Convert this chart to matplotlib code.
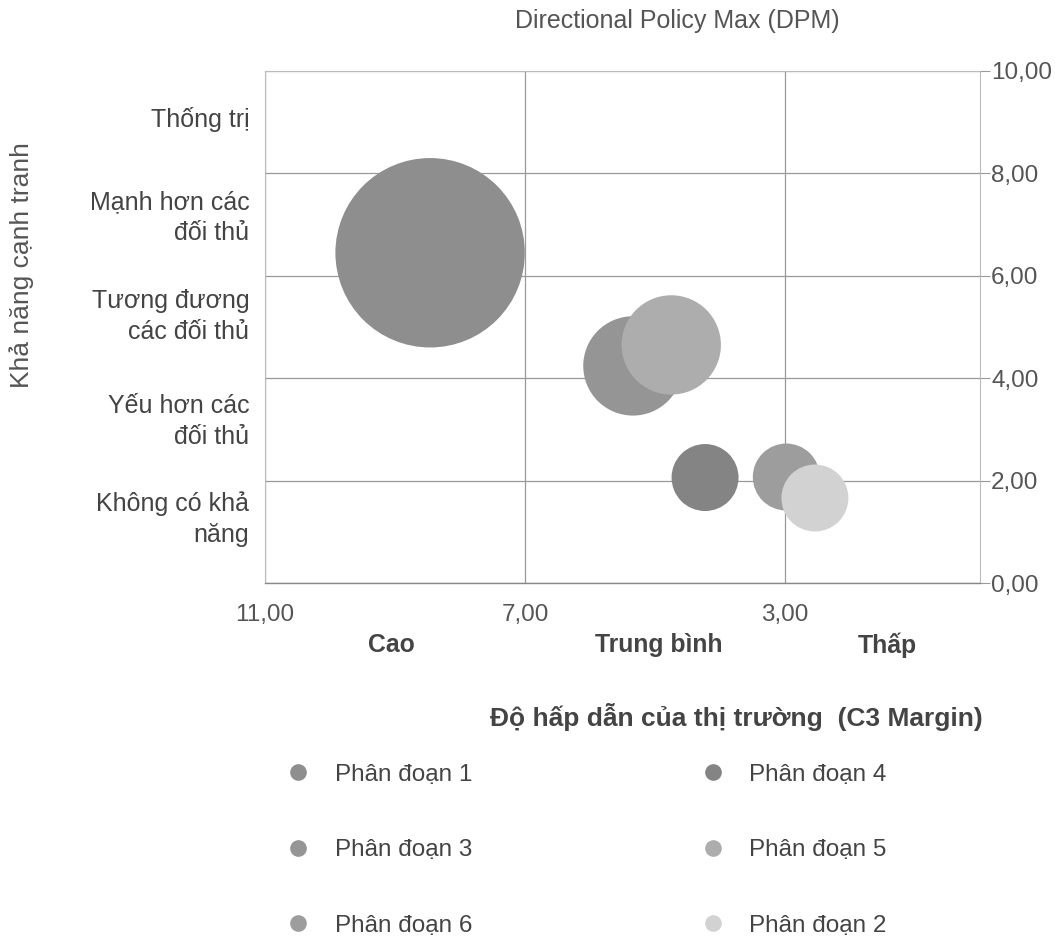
import matplotlib
matplotlib.use("Agg")
import matplotlib.pyplot as plt
import matplotlib.transforms as mtransforms
from matplotlib.lines import Line2D

plt.rcParams['font.family'] = ['Liberation Sans', 'DejaVu Sans']

# Du lieu bong bong (doc tu hinh)
segments = ['Phân đoạn 1', 'Phân đoạn 3', 'Phân đoạn 5', 'Phân đoạn 4', 'Phân đoạn 6', 'Phân đoạn 2']
market_attr = [8.46, 5.34, 4.75, 4.23, 2.98, 2.54]
comp_strength = [6.45, 4.24, 4.65, 2.06, 2.07, 1.66]
bubble_size = [40, 11, 11, 5, 5, 5]
colors = ['#8e8e8e', '#959595', '#adadad', '#848484', '#9d9d9d', '#d2d2d2']

legend_order = ['Phân đoạn 1', 'Phân đoạn 3', 'Phân đoạn 6', 'Phân đoạn 4', 'Phân đoạn 5', 'Phân đoạn 2']

x_ticks = [11, 7, 3]
y_ticks = [0, 2, 4, 6, 8, 10]
y_levels = ['Thống trị', 'Mạnh hơn các\nđối thủ', 'Tương đương\ncác đối thủ',
            'Yếu hơn các\nđối thủ', 'Không có khả\nnăng']
y_level_pos = [9.05, 7.13, 5.2, 3.16, 1.25]
x_levels = ['Cao', 'Trung bình', 'Thấp']
x_level_pos = [9.05, 4.95, 1.42]

fig = plt.figure(figsize=(10.55, 9.44), dpi=100)
ax = fig.add_axes([0.2512, 0.3824, 0.6777, 0.5424])

k = 465  # pt^2 per size unit
for name, x, y, s, c in zip(segments, market_attr, comp_strength, bubble_size, colors):
    ax.scatter(x, y, s=s * k, color=c, edgecolors='none', zorder=3)

ax.set_xlim(11, 0)
ax.set_ylim(0, 10)

ax.set_xticks(x_ticks)
ax.set_xticklabels([f"{v:.2f}".replace('.', ',') for v in x_ticks])
ax.set_yticks(y_ticks)
ax.set_yticklabels([f"{v:.2f}".replace('.', ',') for v in y_ticks])
ax.yaxis.tick_right()
ax.tick_params(axis='x', length=0, pad=15, labelsize=17.5, labelcolor='#555555')
ax.tick_params(axis='y', length=7, color='#999999', width=0.8, pad=1,
               labelsize=17.5, labelcolor='#555555')

ax.grid(True, color='#999999', linewidth=0.9, zorder=0)
ax.set_axisbelow(True)
for side in ['left', 'top', 'right']:
    ax.spines[side].set_color('#bbbbbb')
    ax.spines[side].set_linewidth(0.8)
ax.spines['bottom'].set_color('#888888')
ax.spines['bottom'].set_linewidth(1.0)

# nhan muc do ben trai
ytrans = mtransforms.blended_transform_factory(ax.transAxes, ax.transData)
for lab, pos in zip(y_levels, y_level_pos):
    ax.text(-0.022, pos, lab, transform=ytrans, ha='right', va='center',
            fontsize=18, color='#444444', linespacing=1.36)

# nhan muc do ben duoi
xtrans = mtransforms.blended_transform_factory(ax.transData, ax.transAxes)
for lab, pos in zip(x_levels, x_level_pos):
    ax.text(pos, -0.121, lab, transform=xtrans, ha='center', va='center',
            fontsize=17.8, fontweight='bold', color='#444444')

fig.text(0.021, 0.719, 'Khả năng cạnh tranh', rotation=90, ha='center', va='center',
         fontsize=19, color='#555555')
fig.text(0.698, 0.2405, 'Độ hấp dẫn của thị trường  (C3 Margin)', ha='center', va='center',
         fontsize=19, fontweight='bold', color='#444444')
fig.text(0.642, 0.978, 'Directional Policy Max (DPM)', ha='center', va='center',
         fontsize=18, color='#555555')

color_of = dict(zip(segments, colors))
handles = [Line2D([], [], marker='o', linestyle='none', markersize=12,
                  markerfacecolor=color_of[n], markeredgecolor='none') for n in legend_order]
fig.legend(handles, legend_order, ncol=2, loc='upper left', bbox_to_anchor=(0.2596, 0.204),
           frameon=False, fontsize=17.5, labelcolor='#444444', handlelength=1.0,
           handletextpad=1.0, labelspacing=2.2, columnspacing=9.4, borderpad=0)

fig.savefig('out.png', dpi=100)
